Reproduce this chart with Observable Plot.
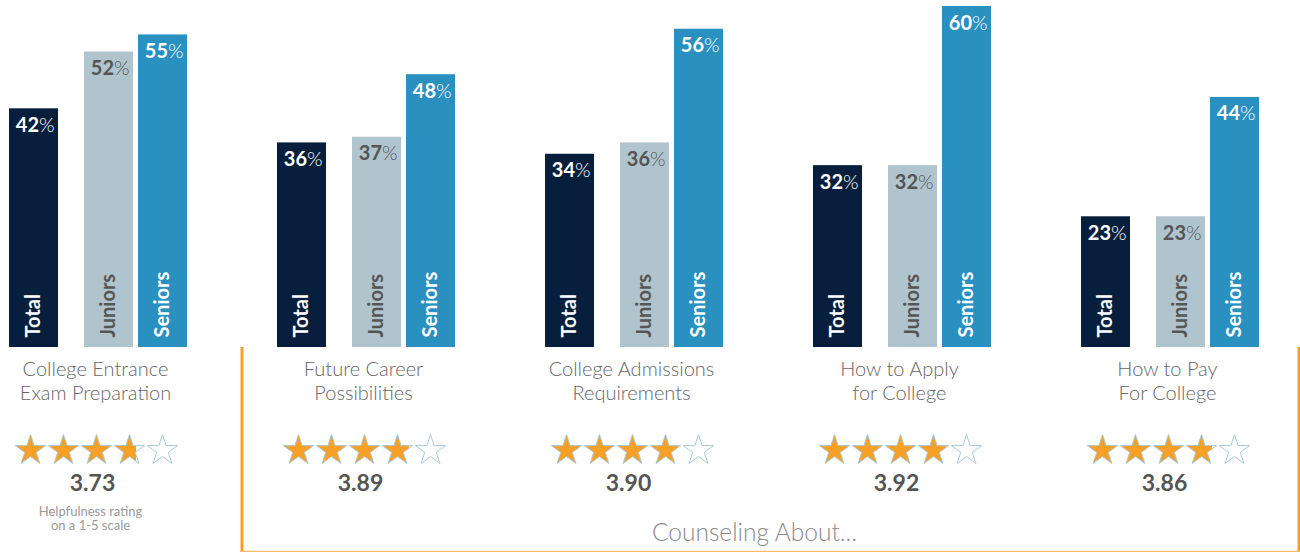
<!DOCTYPE html>
<html><head><meta charset="utf-8">
<script src="https://cdn.jsdelivr.net/npm/d3@7"></script>
<script src="https://cdn.jsdelivr.net/npm/@observablehq/plot@0.6"></script>
<style>html,body{margin:0;padding:0;background:#fff;font-family:Lato,sans-serif}</style>
</head><body><div id="chart"></div>
<script>
// ---- data ----
const topics = ["College Entrance\nExam Preparation", "Future Career\nPossibilities", "College Admissions\nRequirements", "How to Apply\nfor College", "How to Pay\nFor College"];
const series = ["Total", "Juniors", "Seniors"];
const totalPct = [42, 36, 34, 32, 23];
const juniorsPct = [52, 37, 36, 32, 23];
const seniorsPct = [55, 48, 56, 60, 44];
const ratings = [3.73, 3.89, 3.90, 3.92, 3.86];
const ratingLabels = ["3.73", "3.89", "3.90", "3.92", "3.86"];
const starSlots = [1, 2, 3, 4, 5];
const footnote = "Helpfulness rating\non a 1-5 scale";
const bracketTitle = "Counseling About...";

// ---- styles ----
const ORANGE = "#f7a028";
const seriesValues = {Total: totalPct, Juniors: juniorsPct, Seniors: seniorsPct};
const seriesStyle = {
  Total:   {fill: "#071f3c", text: "#ffffff", insetLeft: 0,   insetRight: 129, dx: -64.5},
  Juniors: {fill: "#b0c4cd", text: "#555555", insetLeft: 75,  insetRight: 54,  dx: 10.5},
  Seniors: {fill: "#2a90c0", text: "#ffffff", insetLeft: 129, insetRight: 0,   dx: 64.5}
};

const ratingRows = topics.map((t, i) => ({topic: t, rating: ratings[i], label: ratingLabels[i], idx: i}));

const marks = [];
for (const s of series) {
  const st = seriesStyle[s];
  const rows = topics.map((t, i) => ({topic: t, value: seriesValues[s][i]}));
  marks.push(Plot.barY(rows, {x: "topic", y: "value", fill: st.fill, insetLeft: st.insetLeft, insetRight: st.insetRight}));
  marks.push(Plot.text(rows, {x: "topic", y: "value", text: d => String(d.value), textAnchor: "end", lineAnchor: "bottom",
    dx: st.dx + 5, dy: 23, fill: st.text, fontSize: 20, fontWeight: 700}));
  marks.push(Plot.text(rows, {x: "topic", y: "value", text: () => "%", textAnchor: "start", lineAnchor: "bottom",
    dx: st.dx + 5, dy: 23, fill: st.text, fontSize: 20, fontWeight: 300}));
  marks.push(Plot.text(rows, {x: "topic", y: () => 0, text: () => s, rotate: -90, textAnchor: "start", lineAnchor: "middle",
    dx: st.dx, dy: -10, fill: st.text, fontSize: 20, fontWeight: 700}));
}

// category labels
marks.push(Plot.text(topics, {x: d => d, y: () => 0, text: d => d, lineAnchor: "top", dx: -3, dy: 11,
  fontSize: 20, fontWeight: 300, fill: "#666666", lineHeight: 1.2}));

// stars
for (const k of starSlots) {
  marks.push(Plot.dot(ratingRows, {x: "topic", y: () => 0, symbol: "star", r: 9.56,
    dx: -2 + (k - 3) * 33, dy: 103,
    fill: d => d.rating >= k ? ORANGE : d.rating <= k - 1 ? "#ffffff" : `url(#star-grad-${d.idx})`,
    stroke: "#a9cadb", strokeWidth: 1}));
}

// rating numbers
marks.push(Plot.text(ratingRows, {x: "topic", y: () => 0, text: "label", lineAnchor: "bottom", dx: -6, dy: 143,
  fontSize: 23, fontWeight: 700, fill: "#555555"}));

// footnote
marks.push(Plot.text([footnote], {x: () => topics[0], y: () => 0, text: d => d, lineAnchor: "top", dx: -8, dy: 159,
  fontSize: 13, fill: "#9a9a9a", lineHeight: 1.04}));

// bracket
marks.push(Plot.ruleX([topics[1]], {x: d => d, y1: () => 0, y2: () => -35.9, dx: -124.5, stroke: ORANGE, strokeWidth: 3}));
marks.push(Plot.ruleX([topics[4]], {x: d => d, y1: () => 0, y2: () => -35.9, dx: 128.5, stroke: ORANGE, strokeWidth: 3}));
marks.push(Plot.ruleY([-35.9], {insetLeft: 231, insetRight: -41, stroke: "#f8bb6a", strokeWidth: 1.5}));
marks.push(Plot.text([bracketTitle], {x: () => topics[2], y: () => 0, text: d => d, lineAnchor: "bottom", dx: 120, dy: 193,
  fontSize: 24.5, fontWeight: 300, fill: "#8a8a8a"}));

const chart = Plot.plot({
  width: 1300, height: 552,
  marginLeft: 9, marginRight: 41, marginTop: 6, marginBottom: 205,
  x: {domain: topics, axis: null, paddingInner: 90 / 268, paddingOuter: 0},
  y: {domain: [0, 60], axis: null},
  color: {type: "identity"},
  style: {fontFamily: "Lato, sans-serif", background: "#ffffff", overflow: "visible"},
  marks
});

const defs = d3.select(chart).insert("defs", ":first-child");
ratings.forEach((r, i) => {
  const f = r - Math.floor(r);
  const g = defs.append("linearGradient").attr("id", `star-grad-${i}`);
  g.append("stop").attr("offset", f).attr("stop-color", ORANGE);
  g.append("stop").attr("offset", f).attr("stop-color", "#ffffff");
});

document.getElementById("chart").appendChild(chart);
</script>
</body></html>
